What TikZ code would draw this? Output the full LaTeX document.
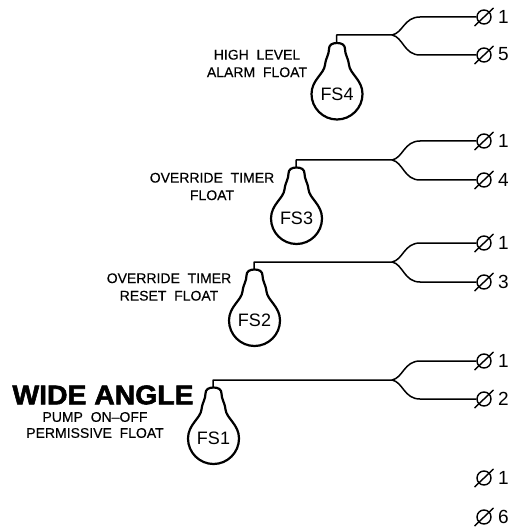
\documentclass[tikz,border=0pt]{standalone}
\usepackage{fontspec}
\setmainfont{Liberation Sans}
\newfontfamily\heavyfont[BoldFeatures={FakeBold=2,FakeStretch=1.05}]{Liberation Sans}
\newfontfamily\capfont[WordSpace=2,FakeBold=0.3,Ligatures=TeX]{Liberation Sans}
\tikzset{
  bulbline/.style={draw=black,line width=2.2pt,line join=round},
  wireline/.style={draw=black,line width=1.5pt,line join=round},
  termcircle/.style={circle,draw=black,line width=1.4pt,minimum size=14pt,inner sep=0pt},
  termslash/.style={draw=black,line width=1.4pt},
  termnum/.style={font=\fontsize{19}{19}\selectfont,inner sep=0pt},
  fslabel/.style={font=\fontsize{18}{18}\selectfont,inner sep=0pt},
  caption/.style={font=\capfont\fontsize{14}{17.5}\selectfont,align=center,inner sep=0pt},
}
% name, x of bulb centre, y of bulb centre
\newcommand{\bulbshape}[3]{%
  \node[fslabel] (#1) at (#2,#3) {#1};
  \coordinate (#1top) at (#2-0.5,#3-51);
  \draw[bulbline,shift={(#2,#3)}]
    (0,-51) .. controls (-5,-51) and (-8,-49) .. (-8,-45)
    .. controls (-8,-39) and (-11,-37) .. (-12,-29)
    .. controls (-13,-20) and (-25.5,-14) .. (-25.5,0)
    .. controls (-25.5,14) and (-14,25.5) .. (0,25.5)
    .. controls (14,25.5) and (25.5,14) .. (25.5,0)
    .. controls (25.5,-14) and (13,-20) .. (12,-29)
    .. controls (11,-37) and (8,-39) .. (8,-45)
    .. controls (8,-49) and (5,-51) .. (0,-51) -- cycle;
}
% name, y, number
\newcommand{\terminal}[3]{%
  \node[termcircle] (#1) at (484,#2) {};
  \draw[termslash] ([shift={(-9.5,9)}]#1.center) -- ([shift={(9.5,-9)}]#1.center);
  \node[termnum] (#1n) at (503.5,#2-0.5) {#3};
}
% bulb, wire y, split x, top term, bottom term, top y, bottom y
\newcommand{\wires}[7]{%
  \coordinate (#1corner) at (#1top |- 0,#2);
  \coordinate (#1split) at (#3,#2);
  \draw[wireline] (#1top) -- (#1corner) -- (#1split)
    .. controls (#3+11,#2-2) and (#3+12,#6) .. (#3+28,#6) -- (#4.west);
  \draw[wireline] (#1split)
    .. controls (#3+11,#2+2) and (#3+12,#7) .. (#3+28,#7) -- (#5.west);
}
\begin{document}
\begin{tikzpicture}[x=1pt,y=-1pt]
\useasboundingbox (0,0) rectangle (516,529);
\bulbshape{FS4}{337}{94}
\bulbshape{FS3}{296.5}{218.5}
\bulbshape{FS2}{254.5}{320.5}
\bulbshape{FS1}{213.5}{438.5}
\terminal{a1}{17}{1}
\terminal{a5}{55}{5}
\terminal{b1}{141}{1}
\terminal{b4}{180}{4}
\terminal{c1}{243}{1}
\terminal{c3}{282}{3}
\terminal{d1}{361}{1}
\terminal{d2}{399}{2}
\terminal{e1}{478}{1}
\terminal{e6}{517}{6}
\wires{FS4}{35}{392}{a1}{a5}{17}{55}
\wires{FS3}{160}{392}{b1}{b4}{141}{180}
\wires{FS2}{262}{392}{c1}{c3}{243}{282}
\wires{FS1}{380}{392}{d1}{d2}{361}{399}
\node[caption] (capa) at (257,63.5) {HIGH LEVEL\\ALARM FLOAT};
\node[caption] (capb) at (212,186.5) {OVERRIDE TIMER\\FLOAT};
\node[caption] (capc) at (169,287) {OVERRIDE TIMER\\RESET FLOAT};
\node[inner sep=0pt,font=\heavyfont\bfseries\fontsize{27}{27}\selectfont] (wide) at (103,395) {WIDE ANGLE};
\node[caption,font=\capfont\fontsize{14}{16}\selectfont] (capd) at (95,425) {PUMP ON--OFF\\PERMISSIVE FLOAT};
\end{tikzpicture}
\end{document}
